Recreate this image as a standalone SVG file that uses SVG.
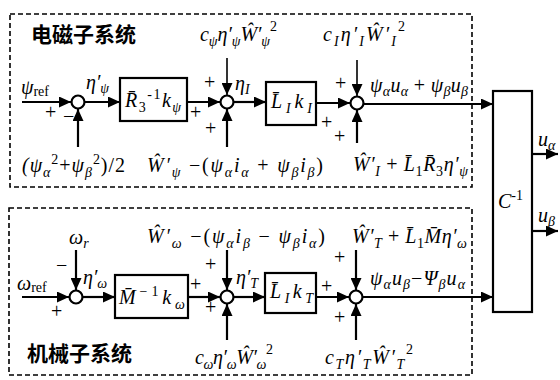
<svg xmlns="http://www.w3.org/2000/svg" width="560" height="380" viewBox="0 0 560 380">
<defs>
<marker id="ar" markerUnits="userSpaceOnUse" markerWidth="13" markerHeight="11" refX="12" refY="5.5" orient="auto">
<path d="M0,0 L12,5.5 L0,11 Z" fill="#000"/>
</marker>
<style>
.dash{fill:none;stroke:#000;stroke-width:1.6;stroke-dasharray:5,3}
.ln{fill:none;stroke:#000;stroke-width:2.2;marker-end:url(#ar)}
.thin{fill:none;stroke:#000;stroke-width:1.6;marker-end:url(#ar)}
.blk{fill:#fff;stroke:#000;stroke-width:2.2}
.sum{fill:#fff;stroke:#000;stroke-width:2.2}
.m{font-family:"Liberation Serif","DejaVu Serif",serif;font-style:italic;font-size:20px;fill:#000}
.s{font-size:14px}
.u{font-style:normal}
.p{font-family:"Liberation Serif","DejaVu Serif",serif;font-size:20px;fill:#000}
.cn{font-family:"Noto Sans CJK SC","Noto Sans",sans-serif;font-weight:bold;font-size:21px;fill:#000}
</style>
</defs>
<rect class="dash" x="10" y="14" width="462" height="173"/>
<rect class="dash" x="9" y="208" width="463" height="167"/>
<text class="cn" x="31" y="42">电磁子系统</text>
<text class="cn" x="27" y="361">机械子系统</text>
<g id="connectors">
<path class="ln" d="M22,102 H71"/>
<path class="ln" d="M85,102 H120"/>
<path class="ln" d="M187,102 H220"/>
<path class="ln" d="M234,102 H266"/>
<path class="ln" d="M316,103 H350"/>
<path class="ln" d="M364,104 H493"/>
<path class="ln" d="M78,147 V109"/>
<path class="thin" d="M227,58 V95"/>
<path class="ln" d="M227,147 V109"/>
<path class="thin" d="M357,60 V96"/>
<path class="ln" d="M357,143 V110"/>
<path class="ln" d="M532,154 H558"/>
<path class="ln" d="M532,231 H558"/>
<path class="ln" d="M22,297 H69"/>
<path class="ln" d="M76,250 V290"/>
<path class="ln" d="M83,297 H115"/>
<path class="ln" d="M188,297 H220"/>
<path class="ln" d="M227,250 V290"/>
<path class="ln" d="M227,340 V304"/>
<path class="ln" d="M234,297 H265"/>
<path class="ln" d="M316,297 H349"/>
<path class="ln" d="M356,250 V290"/>
<path class="ln" d="M356,340 V304"/>
<path class="ln" d="M363,297 H493"/>
</g>
<g id="sum1"><circle class="sum" cx="78" cy="102" r="6.5"/></g>
<g id="sum2"><circle class="sum" cx="227" cy="102" r="6.5"/></g>
<g id="sum3"><circle class="sum" cx="357" cy="103" r="6.5"/></g>
<g id="sum4"><circle class="sum" cx="76" cy="297" r="6.5"/></g>
<g id="sum5"><circle class="sum" cx="227" cy="297" r="6.5"/></g>
<g id="sum6"><circle class="sum" cx="356" cy="297" r="6.5"/></g>
<g id="blkR"><rect class="blk" x="120" y="78" width="67" height="43"/>
<text class="m" x="125" y="107" textLength="56" lengthAdjust="spacing">R̄<tspan class="s u" dy="5">3</tspan><tspan class="s u" dy="-13">-1</tspan><tspan dy="8">k</tspan><tspan class="s" dy="5">ψ</tspan></text></g>
<g id="blkLI"><rect class="blk" x="266" y="82" width="50" height="43"/>
<text class="m" x="271" y="108" textLength="41" lengthAdjust="spacing">L̄<tspan class="s" dy="5">I</tspan><tspan dy="-5">k</tspan><tspan class="s" dy="5">I</tspan></text></g>
<g id="blkM"><rect class="blk" x="115" y="275" width="73" height="43"/>
<text class="m" x="119" y="304" textLength="66" lengthAdjust="spacing">M̄<tspan class="s u" dy="-8">−1</tspan><tspan dy="8">k</tspan><tspan class="s" dy="5">ω</tspan></text></g>
<g id="blkLT"><rect class="blk" x="265" y="273" width="51" height="40"/>
<text class="m" x="270" y="298" textLength="43" lengthAdjust="spacing">L̄<tspan class="s" dy="5">I</tspan><tspan dy="-5">k</tspan><tspan class="s" dy="5">T</tspan></text></g>
<g id="blkC"><rect class="blk" x="493" y="91" width="39" height="221"/>
<text class="m" x="498" y="208">C<tspan class="s u" dy="-8">-1</tspan></text></g>
<g id="labels">
<text class="m" x="21" y="94">ψ<tspan class="s u" dy="2">ref</tspan></text>
<text class="m" x="86" y="89">η′<tspan class="s" dy="4">ψ</tspan></text>
<text class="p" x="45" y="119">+</text>
<text class="p" x="63" y="123">−</text>
<text class="m" x="22" y="172" textLength="103" lengthAdjust="spacing">(ψ<tspan class="s" dy="5">α</tspan><tspan class="s u" dy="-13">2</tspan><tspan class="u" dy="8">+</tspan>ψ<tspan class="s" dy="5">β</tspan><tspan class="s u" dy="-13">2</tspan><tspan class="u" dy="8">)/2</tspan></text>
<text class="m" x="200" y="41" textLength="77" lengthAdjust="spacing">c<tspan class="s" dy="5">ψ</tspan><tspan dy="-5">η′</tspan><tspan class="s" dy="5">ψ</tspan><tspan dy="-5">Ŵ′</tspan><tspan class="s" dy="5">ψ</tspan><tspan class="s u" dy="-15">2</tspan></text>
<text class="p" x="204" y="89">+</text>
<text class="m" x="235" y="90">η<tspan class="s" dy="4">I</tspan></text>
<text class="p" x="190" y="119">+</text>
<text class="p" x="205" y="135">+</text>
<text class="m" x="147" y="172" textLength="176" lengthAdjust="spacing">Ŵ′<tspan class="s" dy="5">ψ</tspan><tspan class="u" dy="-5"> −(</tspan>ψ<tspan class="s" dy="5">α</tspan><tspan dy="-5">i</tspan><tspan class="s" dy="5">α</tspan><tspan class="u" dy="-5"> + </tspan>ψ<tspan class="s" dy="5">β</tspan><tspan dy="-5">i</tspan><tspan class="s" dy="5">β</tspan><tspan class="u" dy="-5">)</tspan></text>
<text class="m" x="323" y="41" textLength="82" lengthAdjust="spacing">c<tspan class="s" dy="5">I</tspan><tspan dy="-5">η′</tspan><tspan class="s" dy="5">I</tspan><tspan dy="-5">Ŵ′</tspan><tspan class="s" dy="5">I</tspan><tspan class="s u" dy="-15">2</tspan></text>
<text class="p" x="335" y="90">+</text>
<text class="m" x="370" y="92" textLength="98" lengthAdjust="spacing">ψ<tspan class="s" dy="4">α</tspan><tspan dy="-4">u</tspan><tspan class="s" dy="4">α</tspan><tspan class="u" dy="-4"> + </tspan>ψ<tspan class="s" dy="4">β</tspan><tspan dy="-4">u</tspan><tspan class="s" dy="4">β</tspan></text>
<text class="p" x="321" y="129">+</text>
<text class="p" x="334" y="143">+</text>
<text class="m" x="353" y="171" textLength="115" lengthAdjust="spacing">Ŵ′<tspan class="s" dy="5">I</tspan><tspan class="u" dy="-5"> + </tspan>L̄<tspan class="s u" dy="5">1</tspan><tspan dy="-5">R̄</tspan><tspan class="s u" dy="5">3</tspan><tspan dy="-5">η′</tspan><tspan class="s" dy="5">ψ</tspan></text>
<text class="m" x="538" y="146">u<tspan class="s" dy="4">α</tspan></text>
<text class="m" x="538" y="222">u<tspan class="s" dy="4">β</tspan></text>
<text class="m" x="69" y="244">ω<tspan class="s" dy="4">r</tspan></text>
<text class="p" x="56" y="272">−</text>
<text class="m" x="83" y="284">η′<tspan class="s" dy="4">ω</tspan></text>
<text class="m" x="17" y="290">ω<tspan class="s u" dy="2">ref</tspan></text>
<text class="p" x="51" y="318">+</text>
<text class="p" x="190" y="291">+</text>
<text class="m" x="147" y="243" textLength="178" lengthAdjust="spacing">Ŵ′<tspan class="s" dy="5">ω</tspan><tspan class="u" dy="-5"> −(</tspan>ψ<tspan class="s" dy="5">α</tspan><tspan dy="-5">i</tspan><tspan class="s" dy="5">β</tspan><tspan class="u" dy="-5"> − </tspan>ψ<tspan class="s" dy="5">β</tspan><tspan dy="-5">i</tspan><tspan class="s" dy="5">α</tspan><tspan class="u" dy="-5">)</tspan></text>
<text class="p" x="205" y="271">+</text>
<text class="m" x="236" y="284">η′<tspan class="s" dy="4">T</tspan></text>
<text class="p" x="205" y="314">+</text>
<text class="m" x="195" y="364" textLength="78" lengthAdjust="spacing">c<tspan class="s" dy="5">ω</tspan><tspan dy="-5">η′</tspan><tspan class="s" dy="5">ω</tspan><tspan dy="-5">Ŵ′</tspan><tspan class="s" dy="5">ω</tspan><tspan class="s u" dy="-15">2</tspan></text>
<text class="p" x="321" y="293">+</text>
<text class="p" x="334" y="264">+</text>
<text class="p" x="334" y="324">+</text>
<text class="m" x="352" y="243" textLength="115" lengthAdjust="spacing">Ŵ′<tspan class="s" dy="5">T</tspan><tspan class="u" dy="-5"> + </tspan>L̄<tspan class="s u" dy="5">1</tspan><tspan dy="-5">M̄</tspan>η′<tspan class="s" dy="5">ω</tspan></text>
<text class="m" x="370" y="285" textLength="95" lengthAdjust="spacing">ψ<tspan class="s" dy="4">α</tspan><tspan dy="-4">u</tspan><tspan class="s" dy="4">β</tspan><tspan class="u" dy="-4">−</tspan>Ψ<tspan class="s" dy="4">β</tspan><tspan dy="-4">u</tspan><tspan class="s" dy="4">α</tspan></text>
<text class="m" x="325" y="364" textLength="88" lengthAdjust="spacing">c<tspan class="s" dy="5">T</tspan><tspan dy="-5">η′</tspan><tspan class="s" dy="5">T</tspan><tspan dy="-5">Ŵ′</tspan><tspan class="s" dy="5">T</tspan><tspan class="s u" dy="-15">2</tspan></text>
</g>
</svg>
